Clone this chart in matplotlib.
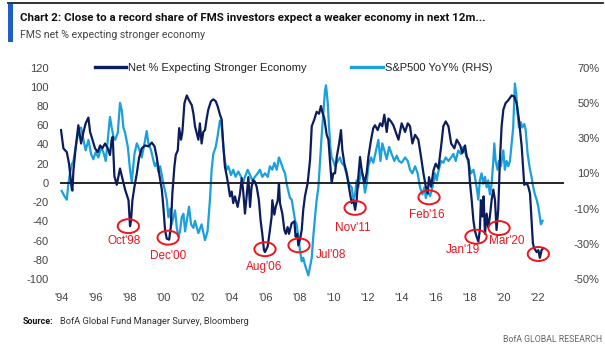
import matplotlib
matplotlib.use("Agg")
import matplotlib.pyplot as plt
from matplotlib.patches import Ellipse, Rectangle
from matplotlib.lines import Line2D

# Net % expecting stronger economy (left axis), decimal years
net_years = [1993.94, 1994.08, 1994.28, 1994.41, 1994.57, 1994.61, 1994.67, 1994.81, 1994.96, 1995.12,
             1995.26, 1995.39, 1995.55, 1995.65, 1995.79, 1995.94, 1996.10, 1996.24, 1996.37, 1996.53,
             1996.69, 1996.82, 1996.92, 1996.98, 1997.08, 1997.22, 1997.41, 1997.61, 1997.71, 1997.91,
             1998.00, 1998.06, 1998.14, 1998.26, 1998.40, 1998.53, 1998.69, 1998.89, 1999.08, 1999.28,
             1999.44, 1999.57, 1999.71, 1999.87, 1999.96, 2000.06, 2000.16, 2000.30, 2000.40, 2000.49,
             2000.61, 2000.69, 2000.81, 2000.89, 2001.00, 2001.08, 2001.20, 2001.34, 2001.47, 2001.63,
             2001.73, 2001.82, 2002.02, 2002.11, 2002.21, 2002.31, 2002.41, 2002.51, 2002.60, 2002.76,
             2002.90, 2003.04, 2003.15, 2003.29, 2003.39, 2003.49, 2003.58, 2003.68, 2003.78, 2003.88,
             2003.98, 2004.07, 2004.17, 2004.33, 2004.47, 2004.57, 2004.66, 2004.76, 2004.86, 2004.96,
             2005.06, 2005.15, 2005.25, 2005.35, 2005.45, 2005.58, 2005.68, 2005.78, 2005.88, 2005.94,
             2006.10, 2006.23, 2006.33, 2006.37, 2006.49, 2006.57, 2006.69, 2006.76, 2006.82, 2006.96,
             2007.08, 2007.16, 2007.27, 2007.35, 2007.51, 2007.67, 2007.74, 2007.84, 2007.90, 2008.00,
             2008.10, 2008.19, 2008.29, 2008.45, 2008.59, 2008.69, 2008.84, 2008.98, 2009.12, 2009.23,
             2009.31, 2009.43, 2009.57, 2009.67, 2009.76, 2009.86, 2009.96, 2010.06, 2010.16, 2010.30,
             2010.41, 2010.49, 2010.61, 2010.75, 2010.84, 2010.94, 2011.04, 2011.14, 2011.24, 2011.33,
             2011.43, 2011.53, 2011.63, 2011.79, 2011.92, 2012.02, 2012.18, 2012.31, 2012.41, 2012.57,
             2012.71, 2012.84, 2012.96, 2013.10, 2013.20, 2013.35, 2013.49, 2013.63, 2013.79, 2013.98,
             2014.18, 2014.34, 2014.47, 2014.61, 2014.77, 2014.96, 2015.12, 2015.26, 2015.40, 2015.51,
             2015.59, 2015.71, 2015.85, 2015.98, 2016.14, 2016.30, 2016.43, 2016.57, 2016.73, 2016.89,
             2017.08, 2017.22, 2017.42, 2017.55, 2017.71, 2017.81, 2017.91, 2018.00, 2018.10, 2018.20,
             2018.29, 2018.39, 2018.49, 2018.58, 2018.64, 2018.72, 2018.80, 2018.88, 2018.98, 2019.07,
             2019.17, 2019.27, 2019.37, 2019.47, 2019.56, 2019.66, 2019.76, 2019.86, 2019.96, 2020.09,
             2020.25, 2020.45, 2020.60, 2020.74, 2020.88, 2021.04, 2021.13, 2021.19, 2021.33, 2021.43,
             2021.53, 2021.62, 2021.70, 2021.78, 2021.92, 2022.02, 2022.11, 2022.21, 2022.31]
net_vals = [55, 36, 32, 20, -6, -8, 13, 38, 60, 41,
            53, 62, 68, 53, 45, 36, 32, 39, 36, 41,
            36, 29, 45, 48, 7, -2, 15, 0, -7, -18,
            -45, -39, -18, -4, 10, 26, 36, 39, 38, 42,
            38, 27, 10, -7, -25, -49, -58, -59, -46, -11,
            17, 29, 34, 57, 45, 53, 83, 91, 86, 81,
            72, 59, 45, 62, 41, 53, 55, 67, 76, 85,
            87, 85, 80, 71, 66, 38, 17, 8, -2, -14,
            -9, -21, -14, -25, -11, 5, -9, -32, -14, 6,
            -25, -4, 3, 1, -4, -18, -39, -53, -70, -72,
            -66, -49, -35, -18, -33, -25, -18, 0, -21, -32,
            -49, -53, -46, -53, -42, -40, -56, -53, -65, -59,
            -49, -28, -14, 0, 24, 59, 66, 74, 72, 80,
            74, 67, 50, 45, 24, 0, 10, 10, 27, 41,
            55, 34, 20, 10, 0, -11, -21, -18, -28, -18,
            6, 27, 13, 0, 10, 27, 45, 57, 60, 55,
            62, 59, 71, 53, 67, 64, 60, 53, 45, 62,
            53, 62, 59, 41, 50, 45, 27, 10, -4, -11,
            6, -4, 13, 20, 15, 38, 59, 64, 59, 41,
            36, 45, 39, 31, 39, 27, 24, 0, -18, -39,
            -50, -56, -61, -49, -18, -35, -14, -53, -32, -46,
            -35, -18, -7, -18, -49, -28, 24, 59, 76, 83,
            86, 91, 90, 83, 66, 38, 13, -2, 0, -4,
            -11, -39, -63, -68, -72, -70, -78, -70, -68]

# S&P500 YoY % (right axis)
spx_years = [1993.98, 1994.14, 1994.28, 1994.37, 1994.47, 1994.57, 1994.67, 1994.77, 1994.86, 1995.00,
             1995.12, 1995.26, 1995.39, 1995.55, 1995.71, 1995.84, 1995.98, 1996.14, 1996.30, 1996.43,
             1996.57, 1996.73, 1996.82, 1996.92, 1997.02, 1997.12, 1997.28, 1997.41, 1997.51, 1997.61,
             1997.71, 1997.87, 1998.00, 1998.10, 1998.26, 1998.40, 1998.53, 1998.69, 1998.85, 1998.98,
             1999.08, 1999.24, 1999.38, 1999.47, 1999.57, 1999.67, 1999.77, 1999.87, 1999.96, 2000.06,
             2000.16, 2000.26, 2000.36, 2000.45, 2000.55, 2000.65, 2000.75, 2000.85, 2000.94, 2001.04,
             2001.14, 2001.24, 2001.34, 2001.47, 2001.59, 2001.73, 2001.82, 2002.02, 2002.21, 2002.41,
             2002.56, 2002.70, 2002.80, 2002.90, 2003.04, 2003.15, 2003.23, 2003.29, 2003.39, 2003.49,
             2003.58, 2003.68, 2003.78, 2003.94, 2004.07, 2004.21, 2004.37, 2004.53, 2004.66, 2004.76,
             2004.92, 2005.06, 2005.19, 2005.35, 2005.51, 2005.64, 2005.78, 2005.94, 2006.10, 2006.23,
             2006.37, 2006.49, 2006.63, 2006.76, 2006.88, 2007.02, 2007.12, 2007.21, 2007.31, 2007.41,
             2007.51, 2007.61, 2007.71, 2007.80, 2007.90, 2008.00, 2008.10, 2008.19, 2008.29, 2008.39,
             2008.49, 2008.59, 2008.69, 2008.78, 2008.88, 2008.98, 2009.08, 2009.18, 2009.27, 2009.37,
             2009.47, 2009.53, 2009.63, 2009.71, 2009.78, 2009.86, 2009.96, 2010.06, 2010.22, 2010.35,
             2010.45, 2010.61, 2010.75, 2010.88, 2011.04, 2011.14, 2011.24, 2011.33, 2011.43, 2011.53,
             2011.63, 2011.73, 2011.82, 2011.92, 2012.02, 2012.18, 2012.31, 2012.45, 2012.61, 2012.73,
             2012.84, 2012.96, 2013.10, 2013.24, 2013.39, 2013.55, 2013.69, 2013.82, 2013.98, 2014.18,
             2014.34, 2014.47, 2014.61, 2014.77, 2014.92, 2015.06, 2015.20, 2015.32, 2015.40, 2015.51,
             2015.65, 2015.79, 2015.94, 2016.04, 2016.14, 2016.30, 2016.43, 2016.57, 2016.73, 2016.89,
             2017.02, 2017.16, 2017.31, 2017.47, 2017.61, 2017.75, 2017.91, 2018.06, 2018.20, 2018.29,
             2018.39, 2018.49, 2018.58, 2018.68, 2018.78, 2018.88, 2018.98, 2019.07, 2019.17, 2019.27,
             2019.37, 2019.43, 2019.51, 2019.62, 2019.70, 2019.82, 2019.96, 2020.05, 2020.15, 2020.25,
             2020.35, 2020.45, 2020.54, 2020.64, 2020.72, 2020.80, 2020.88, 2020.99, 2021.07, 2021.19,
             2021.27, 2021.39, 2021.53, 2021.62, 2021.72, 2021.82, 2021.92, 2022.02, 2022.11, 2022.17,
             2022.27]
spx_vals = [0, -3, -5, 4, 10, 15, 17, 23, 28, 35,
            36, 29, 23, 29, 21, 18, 22, 19, 25, 22,
            17, 33, 42, 36, 31, 29, 33, 50, 46, 36,
            33, 25, 12, 5, 21, 27, 24, 19, 27, 34,
            27, 23, 17, 14, 16, 11, 14, 9, 4, 0,
            -5, -15, -10, -19, -15, -11, -21, -26, -23, -15,
            -13, -23, -17, -9, -19, -21, -17, -24, -19, -28,
            -23, -5, 12, 21, 25, 31, 36, 40, 37, 25,
            17, 12, 14, 9, 12, 8, 11, 8, 5, 8,
            12, 9, 6, 8, 10, 12, 8, 10, 8, 14,
            12, 16, 12, 19, 16, 12, 10, 4, 0, -4,
            -5, -11, -17, -19, -26, -34, -40, -38, -42, -45,
            -48, -43, -38, -26, -15, -5, 2, 17, 31, 44,
            57, 60, 50, 36, 25, 19, 17, 14, 17, 19,
            16, 14, 9, 4, 2, -5, -2, 6, 2, 8,
            12, 6, -1, 4, 14, 19, 16, 22, 29, 17,
            27, 23, 18, 25, 21, 17, 20, 17, 16, 19,
            17, 12, 10, 14, 10, 2, -2, 2, -4, 0,
            -3, 2, 10, 6, 11, 17, 16, 19, 17, 19,
            21, 17, 23, 21, 25, 21, 16, 10, 12, 8,
            2, -5, 6, 10, 4, 8, 2, 6, -2, 4,
            17, 27, 17, 12, 17, 14, 23, 12, 17, 14,
            17, 27, 36, 61, 55, 44, 36, 39, 36, 38,
            35, 21, 12, 8, 2, -2, -5, -9, -15, -19,
            -17]

# red circled troughs (year, value) and their labels
trough_labels = ["Oct'98", "Dec'00", "Aug'06", "Jul'08", "Nov'11", "Feb'16", "Jan'19", "Mar'20", ""]
trough_x = [1997.90, 2000.24, 2005.94, 2007.94, 2011.24, 2015.59, 2018.35, 2019.71, 2022.02]
trough_y = [-45, -57, -69, -65, -26, -15, -56, -47, -74]
label_x = [1997.65, 2000.24, 2005.88, 2009.82, 2011.12, 2015.47, 2017.59, 2020.15, None]
label_y = [-60, -76, -88, -75, -47, -33, -70, -60, None]

x_ticks = list(range(1994, 2023, 2))
x_ticklabels = ["'%02d" % (y % 100) for y in x_ticks]
left_ticks = list(range(-100, 121, 20))
right_ticks = list(range(-50, 71, 20))

plt.rcParams['font.family'] = ['Liberation Sans', 'DejaVu Sans']
plt.rcParams['axes.unicode_minus'] = False

DARK = '#0b1d5c'
LIGHT = '#1aa0dc'
RED = '#f0141e'
W, H = 605, 355

fig = plt.figure(figsize=(W / 100, H / 100), dpi=100)
renderer = fig.canvas.get_renderer()


def fit_text(x_px, y_px, s, width_px, **kw):
    # place text at pixel position and scale its size to the width seen in the reference
    t = fig.text(x_px / W, 1 - y_px / H, s, va='center', **kw)
    w = t.get_window_extent(renderer).width
    t.set_fontsize(t.get_fontsize() * width_px / w)
    return t


ax = fig.add_axes([60 / W, 1 - 288.6 / H, 503.5 / W, 230.6 / H])
ax2 = ax.twinx()

ax.set_zorder(2)
ax.patch.set_visible(False)

ax2.plot(spx_years, spx_vals, color=LIGHT, lw=1.6)
ax.plot(net_years, net_vals, color=DARK, lw=1.6)
ax.axhline(0, color='black', lw=1.2, zorder=1)

ax.set_xlim(1993.88, 2023.5)
ax.set_ylim(-110, 130)
ax2.set_ylim(-55.5, 75.5)

ax.set_xticks(x_ticks)
ax.set_xticklabels(x_ticklabels)
ax.set_yticks(left_ticks)
ax2.set_yticks(right_ticks)
ax2.set_yticklabels(["%d%%" % v for v in right_ticks])

for a in (ax, ax2):
    for s in a.spines.values():
        s.set_visible(False)
ax.tick_params(axis='both', length=0, labelsize=8, labelcolor='#444444')
ax.tick_params(axis='y', pad=8)
ax.tick_params(axis='x', pad=3)
ax2.tick_params(axis='y', length=0, labelsize=8, labelcolor='#444444', pad=26)
for t in ax2.get_yticklabels():
    t.set_horizontalalignment('right')

for i in range(len(trough_x)):
    ax.add_patch(Ellipse((trough_x[i], trough_y[i]), 1.25, 14.5, fill=False,
                         edgecolor=RED, lw=1.4, zorder=5))
    if trough_labels[i]:
        ax.text(label_x[i], label_y[i], trough_labels[i], color=RED, fontsize=8.5,
                ha='center', va='center', zorder=5)

handles = [Line2D([], [], color=DARK, lw=2.4), Line2D([], [], color=LIGHT, lw=2.4)]
fig.legend(handles, ['Net % Expecting Stronger Economy', 'S&P500 YoY% (RHS)'],
           loc='upper left', bbox_to_anchor=(95 / W, 1 - 63 / H), ncol=2, frameon=False,
           fontsize=8, handlelength=2.8, handletextpad=0.2, columnspacing=4.0,
           borderpad=0, borderaxespad=0, labelcolor='#222222')

# header
fig.add_artist(Line2D([8 / W, 603 / W], [1 - 3 / H, 1 - 3 / H], color='#222222', lw=1.3))
fig.add_artist(Rectangle((8 / W, 1 - 42 / H), 5 / W, 38 / H, color='#1d5fc4', lw=0))
fit_text(20, 18, "Chart 2: Close to a record share of FMS investors expect a weaker economy in next 12m...",
         467, fontsize=9.5, fontweight='bold', family=['Roboto', 'DejaVu Sans'], color='#111111')
fit_text(20, 35, "FMS net % expecting stronger economy", 185, fontsize=9,
         family=['Roboto', 'DejaVu Sans'], color='#444444')

# footer
fit_text(23, 321, "Source:", 31, fontsize=7, fontweight='bold', family=['Roboto', 'DejaVu Sans'],
         color='#111111')
fit_text(60, 321, "BofA Global Fund Manager Survey, Bloomberg", 189, fontsize=7,
         family=['Roboto', 'DejaVu Sans'], color='#333333')
t = fit_text(602, 340, "BofA GLOBAL RESEARCH", 100, fontsize=7, family=['Roboto', 'DejaVu Sans'],
             color='#666666')
t.set_horizontalalignment('right')

fig.savefig('out.png', dpi=100)
